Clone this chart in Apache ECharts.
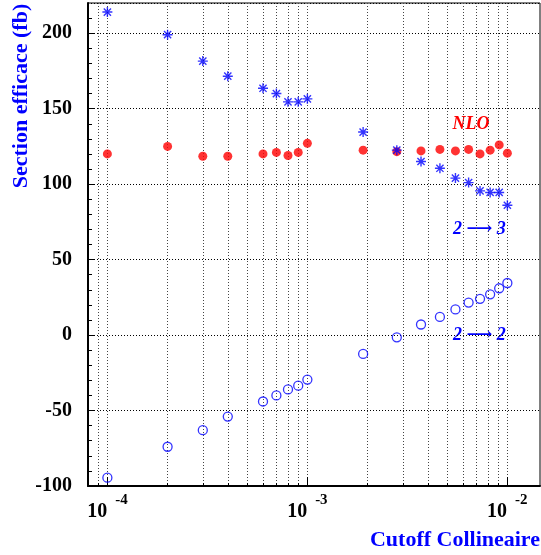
<!DOCTYPE html>
<html>
<head>
<meta charset="utf-8">
<script src="https://cdn.jsdelivr.net/npm/echarts@6/dist/echarts.min.js"></script>
<style>
html,body{margin:0;padding:0;background:#fff;}
#chart{width:541px;height:555px;}
</style>
</head>
<body>
<div id="chart"></div>
<script>
// ---- data ----
const cutoff = [1e-4, 2e-4, 3e-4, 4e-4, 6e-4, 7e-4, 8e-4, 9e-4, 1e-3,
                1.9e-3, 2.8e-3, 3.7e-3, 4.6e-3, 5.5e-3, 6.4e-3, 7.3e-3, 8.2e-3, 9.1e-3, 1e-2];
const nlo   = [120, 125, 118.5, 118.5, 120, 121, 119, 121, 127,
               122.5, 121.5, 122, 123, 122, 123, 120, 122.5, 126, 120.5];
const twoToThree = [214, 199, 181.5, 171.5, 163.5, 160, 154.5, 154.5, 156.5,
                    134.5, 122.5, 115, 110.5, 104, 101, 95.5, 94.5, 94.5, 86];
const twoToTwo = [-94.5, -74, -63, -54, -44, -40, -36, -33.5, -29.5,
                  -12.5, -1.5, 7, 12, 17, 21.5, 24, 27, 31, 34.5];

// axis ranges and ticks
const xMin = 8e-5, xMax = 1.456e-2;
const xGridValues = [9e-5, 1e-4, 2e-4, 3e-4, 4e-4, 5e-4, 6e-4, 7e-4, 8e-4, 9e-4,
                     1e-3, 2e-3, 3e-3, 4e-3, 5e-3, 6e-3, 7e-3, 8e-3, 9e-3, 1e-2];
const xMajorValues = [1e-4, 1e-3, 1e-2];
const yMin = -100, yMax = 220, yStep = 50;
const yMinorTicks = [-90,-80,-70,-60,-40,-30,-20,-10,10,20,30,40,60,70,80,90,110,120,130,140,160,170,180,190,210];

const lg = v => Math.log10(v);
const mk = ys => cutoff.map((x, i) => [x, ys[i]]);

const SERIF = '"Liberation Serif", "DejaVu Serif", serif';
const BLUE = '#0000ff', RED = '#ff0000';
const dotted = {color: '#000', width: 1, type: [1, 2]};

const chart = echarts.init(document.getElementById('chart'), null, {renderer: 'canvas'});
chart.setOption({
  animation: false,
  backgroundColor: '#fff',
  grid: {left: 88, right: 1, top: 3, bottom: 69, show: true, borderColor: '#000', borderWidth: 1, backgroundColor: 'transparent'},
  xAxis: [
    { // data axis (log)
      type: 'log', logBase: 10, min: xMin, max: xMax, show: false
    },
    { // grid lines + minor ticks, in log10 units
      type: 'value', position: 'bottom', min: lg(xMin), max: lg(xMax),
      axisLine: {show: true, onZero: false, lineStyle: {color: '#000', width: 2}},
      axisTick: {show: true, inside: true, length: 3, lineStyle: {color: '#000', width: 1},
                 customValues: xGridValues.map(lg)},
      axisLabel: {show: false},
      splitLine: {show: true, lineStyle: {color: '#444', width: 1, type: [1, 2]}}
    },
    { // major ticks + labels
      type: 'value', position: 'bottom', min: lg(xMin), max: lg(xMax),
      axisLine: {show: false, onZero: false},
      axisTick: {show: true, inside: true, length: 9, lineStyle: {color: '#000', width: 1},
                 customValues: xMajorValues.map(lg)},
      axisLabel: {
        show: true, margin: 7, customValues: xMajorValues.map(lg),
        formatter: v => '{b|10}{s|' + Math.round(v) + '}',
        rich: {
          b: {fontFamily: SERIF, fontWeight: 'bold', fontSize: 20, color: '#000', verticalAlign: 'bottom'},
          s: {fontFamily: SERIF, fontWeight: 'bold', fontSize: 15, color: '#000', verticalAlign: 'bottom', padding: [0, 0, 14, 8]}
        }
      },
      splitLine: {show: false}
    }
  ],
  yAxis: [
    {
      type: 'value', position: 'left', min: yMin, max: yMax, interval: yStep,
      axisLine: {show: true, onZero: false, lineStyle: {color: '#000', width: 2}},
      axisTick: {show: true, inside: true, length: 7, lineStyle: {color: '#000', width: 1}},
      axisLabel: {show: true, margin: 16, showMaxLabel: false, fontFamily: SERIF, fontWeight: 'bold', fontSize: 20, color: '#000'},
      splitLine: {show: true, lineStyle: dotted}
    },
    {
      type: 'value', position: 'left', min: yMin, max: yMax,
      axisLine: {show: false, onZero: false},
      axisTick: {show: true, inside: true, length: 4, lineStyle: {color: '#000', width: 1}, customValues: yMinorTicks},
      axisLabel: {show: false},
      splitLine: {show: false}
    }
  ],
  series: [
    {
      name: 'NLO', type: 'scatter', xAxisIndex: 0, yAxisIndex: 0,
      data: mk(nlo), symbol: 'circle', symbolSize: 9,
      itemStyle: {color: RED}
    },
    {
      name: '2 → 3', type: 'scatter', xAxisIndex: 0, yAxisIndex: 0,
      data: mk(twoToThree),
      symbol: 'path://M0,-5L0,5M-5,0L5,0M-3.6,-3.6L3.6,3.6M-3.6,3.6L3.6,-3.6',
      symbolSize: 10,
      itemStyle: {color: 'transparent', borderColor: BLUE, borderWidth: 1.4}
    },
    {
      name: '2 → 2', type: 'scatter', xAxisIndex: 0, yAxisIndex: 0,
      data: mk(twoToTwo), symbol: 'circle', symbolSize: 9,
      itemStyle: {color: 'transparent', borderColor: BLUE, borderWidth: 1.3}
    }
  ],
  graphic: [
    {type: 'text', x: 21, y: 96, rotation: Math.PI / 2,
     style: {text: 'Section efficace (fb)', fill: BLUE, font: 'bold 22px ' + SERIF, align: 'center', verticalAlign: 'middle'}},
    {type: 'text', x: 540, y: 540,
     style: {text: 'Cutoff Collineaire', fill: BLUE, font: 'bold 22px ' + SERIF, align: 'right', verticalAlign: 'middle'}},
    {type: 'text', x: 471, y: 124,
     style: {text: 'NLO', fill: RED, font: 'italic bold 18px ' + SERIF, align: 'center', verticalAlign: 'middle'}},
    {type: 'text', x: 453, y: 229,
     style: {text: '2 ⟶ 3', fill: BLUE, font: 'italic bold 18px ' + SERIF, align: 'left', verticalAlign: 'middle'}},
    {type: 'text', x: 453, y: 335,
     style: {text: '2 ⟶ 2', fill: BLUE, font: 'italic bold 18px ' + SERIF, align: 'left', verticalAlign: 'middle'}}
  ]
});
</script>
</body>
</html>
